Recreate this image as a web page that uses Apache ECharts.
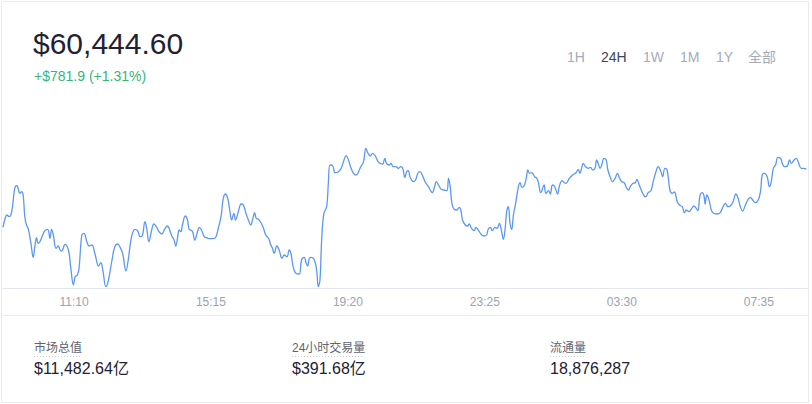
<!DOCTYPE html>
<html>
<head>
<meta charset="utf-8">
<script src="https://cdn.jsdelivr.net/npm/echarts@6.0.0/dist/echarts.min.js"></script>
<style>
html,body{margin:0;padding:0;background:#fff;}
#chart{width:812px;height:404px;}
</style>
</head>
<body>
<div id="chart"></div>
<script>
// minutes since midnight of day 1 (values > 1440 are next day)
const times = [543,547,550,554,557,560,564,568,570,573,576,579,582,585,588,593,597,600,603,606,609,614,618,623,627,630,633,638,642,645,648,654,660,664,669,672,676,679,684,688,693,697,702,708,714,718,722,727,731,738,743,748,752,757,763,767,773,779,784,788,792,797,800,804,809,813,818,822,827,832,837,840,845,849,852,856,858,861,864,869,873,876,881,883,886,891,894,898,903,907,913,919,924,928,933,937,941,945,949,952,956,959,964,969,973,978,982,986,990,993,996,1000,1005,1009,1013,1018,1022,1025,1028,1033,1037,1042,1046,1051,1055,1058,1062,1067,1073,1077,1082,1085,1088,1091,1095,1100,1104,1107,1110,1113,1117,1122,1125,1128,1133,1137,1143,1148,1152,1157,1161,1165,1170,1175,1179,1183,1188,1192,1196,1200,1204,1209,1213,1217,1222,1226,1229,1234,1237,1241,1246,1250,1255,1258,1262,1265,1268,1271,1277,1281,1285,1289,1293,1298,1304,1311,1315,1318,1322,1327,1332,1337,1340,1343,1346,1350,1355,1359,1362,1365,1370,1374,1377,1381,1386,1389,1393,1398,1403,1408,1411,1415,1418,1423,1427,1431,1435,1438,1441,1444,1447,1450,1453,1456,1460,1465,1468,1471,1475,1479,1482,1485,1489,1494,1498,1501,1505,1511,1514,1519,1522,1526,1530,1535,1538,1543,1547,1550,1556,1562,1568,1572,1575,1578,1581,1585,1590,1594,1598,1602,1605,1608,1611,1614,1618,1622,1625,1629,1633,1638,1642,1646,1650,1654,1659,1662,1665,1670,1674,1677,1681,1686,1690,1693,1697,1702,1706,1711,1715,1720,1723,1727,1731,1736,1740,1744,1749,1753,1758,1762,1765,1770,1774,1779,1783,1786,1790,1794,1797,1799,1802,1806,1810,1814,1820,1826,1831,1835,1840,1844,1849,1854,1858,1862,1866,1871,1876,1880,1884,1889,1894,1898,1901,1905,1910,1914,1917,1921,1925,1929,1934,1937,1941,1946,1950,1953,1958,1962,1966,1971,1975,1980];

const prices = [59689,59810,59849,59827,59849,59957,60196,60230,60196,60131,60152,60109,59827,59719,59676,59481,59299,59437,59554,59481,59502,59589,59645,59663,59546,59663,59589,59416,59446,59394,59381,59468,59394,59177,58939,59047,59069,59156,59589,59611,59502,59446,59459,59329,59186,59229,59112,58917,58982,59264,59437,59472,59437,59351,59121,59264,59567,59663,59645,59567,59576,59762,59676,59502,59654,59732,59689,59632,59602,59663,59706,59676,59576,59524,59446,59589,59654,59632,59719,59836,59784,59663,59645,59611,59524,59632,59689,59654,59567,59554,59541,59541,59567,59676,59827,60066,60122,60066,59892,59784,59871,59784,59892,59992,59979,59862,59784,59719,59806,59879,59806,59793,59741,59676,59589,59546,59459,59416,59351,59446,59394,59286,59329,59307,59394,59351,59177,59091,59082,59264,59299,59229,59186,59286,59299,59264,59134,58917,59004,59524,59871,59957,60261,60499,60486,60399,60412,60456,60542,60620,60564,60469,60391,60369,60412,60477,60542,60716,60651,60616,60651,60616,60555,60521,60512,60586,60521,60499,60521,60477,60477,60456,60477,60456,60337,60412,60425,60347,60282,60304,60391,60412,60369,60282,60217,60139,60217,60282,60239,60183,60174,60165,60326,60217,60001,59923,59914,59949,59914,59784,59719,59706,59732,59676,59645,59689,59654,59602,59576,59589,59663,59689,59645,59689,59676,59741,59632,59533,59654,59892,59957,59741,59663,59849,60001,60217,60269,60209,60226,60326,60434,60391,60399,60347,60326,60261,60139,60239,60131,60165,60122,60239,60217,60122,60217,60295,60269,60261,60326,60369,60399,60443,60391,60456,60521,60477,60456,60469,60434,60456,60564,60512,60456,60499,60586,60564,60434,60347,60282,60326,60391,60326,60282,60269,60196,60174,60217,60261,60269,60313,60239,60152,60096,60087,60139,60165,60282,60412,60477,60412,60347,60456,60434,60174,60131,60148,60022,59979,59957,59879,59914,59892,59923,59966,59936,59905,60109,60139,60096,59992,60109,60044,59914,59871,59862,59879,59957,60001,59957,59966,60022,60122,60066,59957,59901,59979,60053,60079,60044,60009,60044,60152,60369,60391,60347,60217,60269,60456,60499,60599,60586,60521,60477,60486,60564,60521,60564,60586,60529,60456,60456,60444.6];

const tickMinutes = [670, 915, 1160, 1405, 1650, 1895];
const tickLabels = ['11:10', '15:15', '19:20', '23:25', '03:30', '07:35'];

const priceText = '$60,444.60';
const changeText = '+$781.9 (+1.31%)';
const rangeButtons = ['1H', '24H', '1W', '1M', '1Y', '全部'];
const activeRange = '24H';
const statLabels = ['市场总值', '24小时交易量', '流通量'];
const statValues = ['$11,482.64亿', '$391.68亿', '18,876,287'];

const FONT = '"Liberation Sans", Arial, "Noto Sans CJK SC", sans-serif';
const n = Math.min(times.length, prices.length);
const seriesData = [];
for (let i = 0; i < n; i++) seriesData.push([times[i], prices[i]]);

const btnX = [567, 601, 643, 680, 716, 748];
const statX = [34, 292, 550];
const statW = [48, 72, 36];

const graphics = [
  { type: 'rect', silent: true, shape: { x: 1.5, y: 1.5, width: 807, height: 401 },
    style: { fill: 'none', stroke: '#e9ebf0', lineWidth: 1 } },
  { type: 'line', silent: true, shape: { x1: 1.5, y1: 315.5, x2: 808.5, y2: 315.5 },
    style: { stroke: '#e9ebf0', lineWidth: 1 } },
  { type: 'text', silent: true, style: { text: priceText, x: 33, y: 43, fill: '#1e2233',
    font: '30px ' + FONT, textAlign: 'left', textVerticalAlign: 'middle' } },
  { type: 'text', silent: true, style: { text: changeText, x: 34, y: 76, fill: '#35b57f',
    font: '14px ' + FONT, textAlign: 'left', textVerticalAlign: 'middle' } }
];
rangeButtons.forEach((b, i) => {
  graphics.push({ type: 'text', silent: true, style: { text: b, x: btnX[i], y: 57,
    fill: b === activeRange ? '#3d4659' : '#a5abba', font: '14px ' + FONT,
    textAlign: 'left', textVerticalAlign: 'middle' } });
});
statLabels.forEach((s, i) => {
  graphics.push({ type: 'text', silent: true, style: { text: s, x: statX[i], y: 348,
    fill: '#60646f', font: '12px ' + FONT, textAlign: 'left', textVerticalAlign: 'middle' } });
  graphics.push({ type: 'line', silent: true,
    shape: { x1: statX[i], y1: 356.5, x2: statX[i] + statW[i], y2: 356.5 },
    style: { stroke: '#c9cdd5', lineWidth: 1, lineDash: [1, 2] } });
  graphics.push({ type: 'text', silent: true, style: { text: statValues[i], x: statX[i], y: 368,
    fill: '#1e2233', font: '16px ' + FONT, textAlign: 'left', textVerticalAlign: 'middle' } });
});

const chart = echarts.init(document.getElementById('chart'), null, { renderer: 'svg' });
chart.setOption({
  animation: false,
  backgroundColor: '#fff',
  grid: { left: 3, right: 4, top: 100, bottom: 116, containLabel: false },
  xAxis: {
    type: 'value', min: 543, max: 1983,
    axisLine: { show: true, lineStyle: { color: '#e3e6ed', width: 1 } },
    axisTick: { show: false, customValues: tickMinutes },
    splitLine: { show: false },
    axisLabel: {
      customValues: tickMinutes,
      margin: 8, color: '#9ca2b0', fontSize: 12, fontFamily: FONT,
      formatter: function (v) {
        const idx = tickMinutes.indexOf(Math.round(v));
        return idx >= 0 ? tickLabels[idx] : '';
      }
    }
  },
  yAxis: {
    type: 'value', min: 58900, max: 61344, show: false,
    splitLine: { show: false }
  },
  series: [{
    type: 'line', data: seriesData, smooth: 0.4, symbol: 'none',
    lineStyle: { color: '#5b98f2', width: 1.3 }
  }],
  graphic: graphics
});
</script>
</body>
</html>
